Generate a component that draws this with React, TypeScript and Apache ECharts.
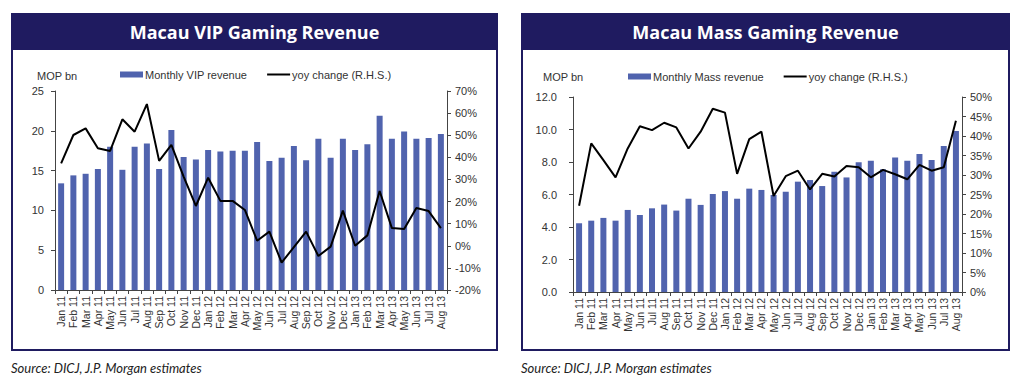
import React, { useEffect, useRef } from "react";
import * as echarts from "echarts";

const months = [
  "Jan 11","Feb 11","Mar 11","Apr 11","May 11","Jun 11","Jul 11","Aug 11","Sep 11","Oct 11","Nov 11","Dec 11",
  "Jan 12","Feb 12","Mar 12","Apr 12","May 12","Jun 12","Jul 12","Aug 12","Sep 12","Oct 12","Nov 12","Dec 12",
  "Jan 13","Feb 13","Mar 13","Apr 13","May 13","Jun 13","Jul 13","Aug 13",
];

const vipRevenue = [
  13.4, 14.4, 14.6, 15.2, 18.0, 15.1, 18.0, 18.4, 15.2, 20.1, 16.7, 16.4,
  17.6, 17.4, 17.5, 17.5, 18.6, 16.2, 16.6, 18.1, 16.3, 19.0, 16.6, 19.0,
  17.6, 18.3, 21.9, 19.0, 19.9, 19.0, 19.1, 19.6,
];
const vipYoy = [
  37.3, 50.1, 53.1, 44.1, 42.9, 57.2, 51.6, 64.1, 38.4, 45.6, 31.3, 18.0,
  30.8, 20.3, 20.3, 16.2, 2.3, 6.4, -7.6, -0.6, 6.4, -4.6, -0.4, 15.9,
  0.0, 4.7, 24.8, 8.0, 7.6, 17.1, 15.7, 8.0,
];

const massRevenue = [
  4.23, 4.39, 4.56, 4.39, 5.05, 4.74, 5.15, 5.38, 5.01, 5.74, 5.36, 6.03,
  6.21, 5.74, 6.36, 6.28, 5.97, 6.17, 6.79, 6.89, 6.52, 7.40, 7.05, 7.98,
  8.07, 7.55, 8.28, 8.07, 8.49, 8.12, 8.99, 9.91,
];
const massYoy = [
  22.1, 38.1, 33.8, 29.4, 36.8, 42.5, 41.5, 43.4, 42.2, 36.8, 41.1, 47.0,
  46.0, 30.3, 39.2, 41.1, 24.6, 29.7, 31.1, 26.3, 30.3, 29.6, 32.3, 32.0,
  29.4, 31.3, 30.2, 28.9, 32.6, 31.1, 32.0, 43.9,
];

const vipTitle = "Macau VIP Gaming Revenue";
const massTitle = "Macau Mass Gaming Revenue";
const vipBarName = "Monthly VIP revenue";
const massBarName = "Monthly Mass revenue";
const yoyName = "yoy change (R.H.S.)";
const unitLabel = "MOP bn";
const sourceText = "Source: DICJ, J.P. Morgan estimates";

const NAVY = "#1f1b60";
const BAR = "#5063ae";
const AXIS = "#444";
const TXT = "#333";
const FONT = "'Liberation Sans', Arial, sans-serif";
const LINE_ICON = "path://M0 0H115V10H0Z";

export default function App() {
  const ref = useRef<HTMLDivElement>(null);
  useEffect(() => {
    if (!ref.current) return;
    const chart = echarts.init(ref.current, undefined, { renderer: "svg" });

    const axisCommon = {
      axisLine: { show: true, lineStyle: { color: AXIS, width: 1 } },
      axisTick: { show: true, length: 4, lineStyle: { color: AXIS } },
      splitLine: { show: false },
    };
    const xAxisFor = (gridIndex: number) => ({
      type: "category",
      gridIndex,
      data: months,
      boundaryGap: true,
      ...axisCommon,
      axisLabel: {
        rotate: 90,
        fontSize: 10.5,
        color: TXT,
        fontFamily: FONT,
        margin: 6,
        interval: 0,
      },
    });

    const panel = (x: number, w: number, title: string) => [
      {
        type: "rect",
        shape: { x: x + 1, y: 14, width: w - 2, height: 336 },
        style: { fill: "#fff", stroke: NAVY, lineWidth: 2 },
        z: -10,
      },
      {
        type: "rect",
        shape: { x, y: 13, width: w, height: 37 },
        style: { fill: NAVY },
        z: -9,
      },
      {
        type: "text",
        x: x + w / 2,
        y: 31.5,
        style: {
          text: title,
          fill: "#fff",
          font: "bold 18px 'Open Sans', 'Noto Sans', sans-serif",
          textAlign: "center",
          textVerticalAlign: "middle",
        },
      },
    ];

    const legendFor = (left: number, top: number, barName: string) => ({
      left,
      top,
      padding: 0,
      itemWidth: 23,
      itemHeight: 6,
      itemGap: 20,
      textStyle: { fontSize: 11, color: TXT, fontFamily: FONT, padding: [0, 0, 0, -3] },
      data: [{ name: barName, icon: "rect" }, { name: yoyName, icon: LINE_ICON }],
      selectedMode: false,
    });

    const option: any = {
      animation: false,
      backgroundColor: "#fff",
      graphic: [
        ...panel(11, 487, vipTitle),
        ...panel(521, 489, massTitle),
        {
          type: "text",
          x: 37,
          y: 76,
          style: { text: unitLabel, fill: TXT, font: `11px ${FONT}`, textVerticalAlign: "middle" },
        },
        {
          type: "text",
          x: 543,
          y: 77,
          style: { text: unitLabel, fill: TXT, font: `11px ${FONT}`, textVerticalAlign: "middle" },
        },
        {
          type: "text",
          x: 11,
          y: 368,
          style: {
            text: sourceText,
            fill: "#222",
            font: `italic 13px Lato, 'Open Sans', sans-serif`,
            textVerticalAlign: "middle",
          },
        },
        {
          type: "text",
          x: 521,
          y: 368,
          style: {
            text: sourceText,
            fill: "#222",
            font: `italic 13px Lato, 'Open Sans', sans-serif`,
            textVerticalAlign: "middle",
          },
        },
      ],
      legend: [legendFor(120, 69, vipBarName), legendFor(628, 71, massBarName)],
      grid: [
        { left: 55, right: 1015 - 447, top: 91, bottom: 376 - 290 },
        { left: 573, right: 1015 - 962, top: 97, bottom: 376 - 292 },
      ],
      xAxis: [xAxisFor(0), xAxisFor(1)],
      yAxis: [
        {
          type: "value",
          gridIndex: 0,
          min: 0,
          max: 25,
          interval: 5,
          ...axisCommon,
          axisLabel: { fontSize: 11, color: TXT, fontFamily: FONT, margin: 11 },
        },
        {
          type: "value",
          gridIndex: 0,
          position: "right",
          min: -20,
          max: 70,
          interval: 10,
          ...axisCommon,
          axisLabel: { fontSize: 11, color: TXT, fontFamily: FONT, margin: 8, formatter: "{value}%" },
        },
        {
          type: "value",
          gridIndex: 1,
          min: 0,
          max: 12,
          interval: 2,
          ...axisCommon,
          axisLabel: {
            fontSize: 11,
            color: TXT,
            fontFamily: FONT,
            margin: 16,
            formatter: (v: number) => v.toFixed(1),
          },
        },
        {
          type: "value",
          gridIndex: 1,
          position: "right",
          min: 0,
          max: 50,
          interval: 5,
          ...axisCommon,
          axisLabel: { fontSize: 11, color: TXT, fontFamily: FONT, margin: 8, formatter: "{value}%" },
        },
      ],
      series: [
        {
          name: vipBarName,
          type: "bar",
          xAxisIndex: 0,
          yAxisIndex: 0,
          data: vipRevenue,
          barWidth: 6,
          itemStyle: { color: BAR },
        },
        {
          name: yoyName,
          type: "line",
          xAxisIndex: 0,
          yAxisIndex: 1,
          data: vipYoy,
          symbol: "none",
          lineStyle: { color: "#000", width: 2 },
          itemStyle: { color: "#000" },
        },
        {
          name: massBarName,
          type: "bar",
          xAxisIndex: 1,
          yAxisIndex: 2,
          data: massRevenue,
          barWidth: 6,
          itemStyle: { color: BAR },
        },
        {
          name: yoyName,
          type: "line",
          xAxisIndex: 1,
          yAxisIndex: 3,
          data: massYoy,
          symbol: "none",
          lineStyle: { color: "#000", width: 2 },
          itemStyle: { color: "#000" },
        },
      ],
    };

    chart.setOption(option);
    return () => chart.dispose();
  }, []);

  return (
    <div
      ref={ref}
      style={{ position: "fixed", left: 0, top: 0, width: 1015, height: 376, background: "#fff" }}
    />
  );
}
